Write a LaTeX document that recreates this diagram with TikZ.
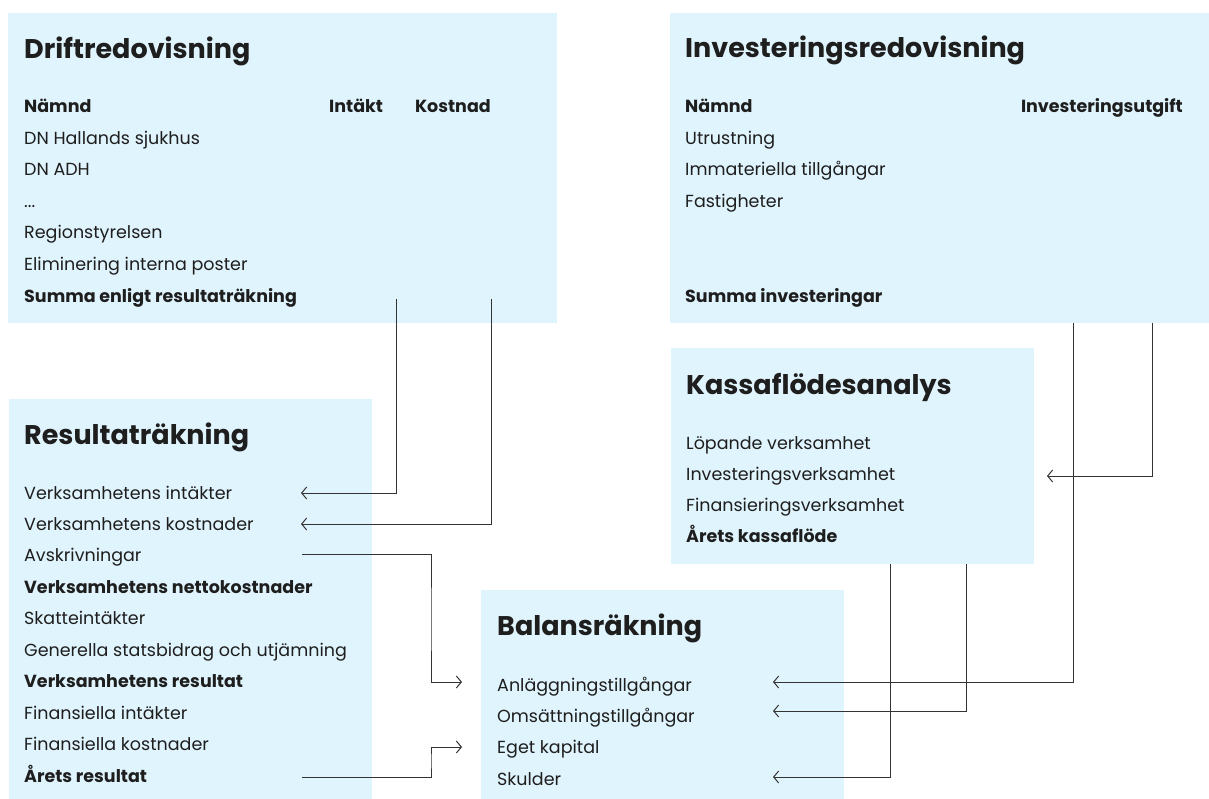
\documentclass[tikz,border=0pt]{standalone}
\usepackage{fontspec}
\setmainfont{Poppins}
\usepackage{xcolor}
\usetikzlibrary{positioning,arrows.meta}
\definecolor{boxblue}{HTML}{E0F4FD}
\definecolor{ink}{HTML}{1E1E1E}
\tikzset{
  box/.style={fill=boxblue, anchor=north west, inner sep=0pt},
  title/.style={anchor=base west, inner sep=0pt, text=ink, font=\fontsize{27}{31}\selectfont\bfseries},
  row/.style={anchor=base west, inner sep=0pt, text=ink, font=\fontsize{17.5}{20}\selectfont},
  bold/.style={row, font=\fontsize{17.5}{20}\selectfont\bfseries},
  conn/.style={draw=black!80, line width=1pt, -{Straight Barb[length=5pt,width=12pt]}}
}
\begin{document}
\begin{tikzpicture}[x=1pt, y=-1pt]
\useasboundingbox (0,0) rectangle (1209,799);

\node[box, minimum width=549pt, minimum height=310pt] (drift) at (8,13) {};
\node[box, minimum width=539pt, minimum height=310pt] (inv) at (670,13) {};
\node[box, minimum width=363pt, minimum height=400pt] (res) at (9,399) {};
\node[box, minimum width=363pt, minimum height=216pt] (kassa) at (671,348) {};
\node[box, minimum width=363pt, minimum height=209pt] (bal) at (481,590) {};

\node[title] (drift-t) at (24,59) {Driftredovisning};
\node[bold] (d-namnd) at (24,113) {Nämnd};
\node[bold] (d-int) at (329,113) {Intäkt};
\node[bold, anchor=base east] (d-kost) at (491,113) {Kostnad};
\node[row] (d1) at (24,145) {DN Hallands sjukhus};
\node[row] (d2) at (24,176) {DN ADH};
\node[row] (d3) at (24,208) {...};
\node[row] (d4) at (24,239) {Regionstyrelsen};
\node[row] (d5) at (24,271) {Eliminering interna poster};
\node[bold] (d-summa) at (24,302) {Summa enligt resultaträkning};

\node[title] (inv-t) at (685,58) {Investeringsredovisning};
\node[bold] (i-namnd) at (685,113) {Nämnd};
\node[bold, anchor=base east] (i-utg) at (1183,113) {Investeringsutgift};
\foreach \t [count=\i] in {Utrustning, Immateriella tillgångar, Fastigheter}
  \node[row] (i\i) at (685,{113+31.5*\i}) {\t};
\node[bold] (i-summa) at (685,302) {Summa investeringar};

\node[title] (res-t) at (24,444) {Resultaträkning};
\node[row] (r1) at (24,499) {Verksamhetens intäkter};
\node[row] (r2) at (24,530) {Verksamhetens kostnader};
\node[row] (r3) at (24,561) {Avskrivningar};
\node[bold] (r4) at (24,593) {Verksamhetens nettokostnader};
\node[row] (r5) at (24,624) {Skatteintäkter};
\node[row] (r6) at (24,656) {Generella statsbidrag och utjämning};
\node[bold] (r7) at (24,687) {Verksamhetens resultat};
\node[row] (r8) at (24,719) {Finansiella intäkter};
\node[row] (r9) at (24,750) {Finansiella kostnader};
\node[bold] (r10) at (24,782) {Årets resultat};

\node[title] (kassa-t) at (686,394) {Kassaflödesanalys};
\node[row] (k1) at (686,449) {Löpande verksamhet};
\node[row] (k2) at (686,480) {Investeringsverksamhet};
\node[row] (k3) at (686,511) {Finansieringsverksamhet};
\node[bold] (k4) at (686,542) {Årets kassaflöde};

\node[title] (bal-t) at (497,635) {Balansräkning};
\node[row] (b1) at (497,691) {Anläggningstillgångar};
\node[row] (b2) at (497,722) {Omsättningstillgångar};
\node[row] (b3) at (497,753) {Eget kapital};
\node[row] (b4) at (497,785) {Skulder};

\coordinate (d-int-out) at (396,299);
\coordinate (d-kost-out) at (491,299);
\coordinate (r1-in) at (301,493);
\coordinate (r2-in) at (301,524);
\coordinate (r3-out) at (302,554);
\coordinate (r10-out) at (302,777);
\coordinate (b1-in) at (462,682);
\coordinate (b3-in) at (462,747);
\coordinate (i-out1) at (1073,323);
\coordinate (i-out2) at (1152,323);
\coordinate (k2-in) at (1047,476);
\coordinate (k-out1) at (890,564);
\coordinate (k-out2) at (966,564);
\coordinate (b1-in2) at (773,682);
\coordinate (b2-in) at (773,711);
\coordinate (b4-in) at (773,777);

\draw[conn] (d-int-out) |- (r1-in);
\draw[conn] (d-kost-out) |- (r2-in);
\draw[conn] (r3-out) -| (431,620) |- (b1-in);
\draw[conn] (r10-out) -| (431,760) |- (b3-in);
\draw[conn] (i-out2) |- (k2-in);
\draw[conn] (i-out1) |- (b1-in2);
\draw[conn] (k-out2) |- (b2-in);
\draw[conn] (k-out1) |- (b4-in);
\end{tikzpicture}
\end{document}
